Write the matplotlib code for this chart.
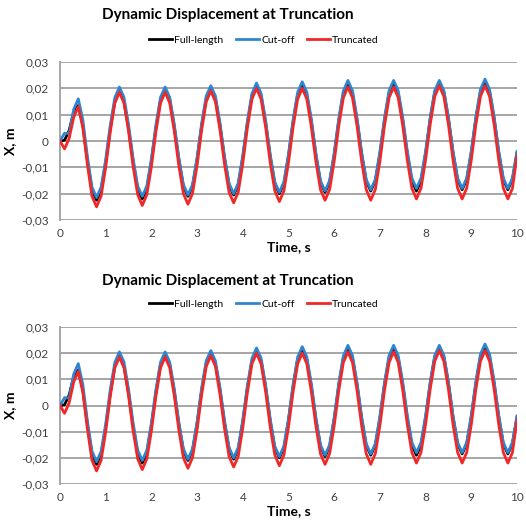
import numpy as np
import matplotlib
matplotlib.use("Agg")
import matplotlib.pyplot as plt
from matplotlib.ticker import FixedLocator, FixedFormatter

plt.rcParams['font.family'] = ['Lato', 'DejaVu Sans']

# time axis, s
time = np.linspace(0, 10, 101)

# displacement, m (every 0.1 s)
full_length = [
    0.0, 0.0003, 0.004, 0.011, 0.0135, 0.006, -0.0075, -0.0185, -0.0225,
    -0.0186, -0.0082, 0.0047, 0.0151, 0.019, 0.0151, 0.0049, -0.0079, -0.0181, -0.022,
    -0.0181, -0.0077, 0.0052, 0.0156, 0.0195, 0.0157, 0.0055, -0.007, -0.0172, -0.021,
    -0.0171, -0.0069, 0.0059, 0.0161, 0.020, 0.0162, 0.006, -0.0065, -0.0167, -0.0205,
    -0.0166, -0.0062, 0.0067, 0.0171, 0.021, 0.0171, 0.0069, -0.0059, -0.0161, -0.020,
    -0.0161, -0.0057, 0.0072, 0.0176, 0.0215, 0.0176, 0.0074, -0.0054, -0.0156, -0.0195,
    -0.0156, -0.0052, 0.0077, 0.0181, 0.022, 0.0181, 0.0079, -0.0049, -0.0151, -0.019,
    -0.0151, -0.0049, 0.0079, 0.0181, 0.022, 0.0181, 0.0079, -0.0049, -0.0151, -0.019,
    -0.0151, -0.0047, 0.0082, 0.0186, 0.0225, 0.0186, 0.0084, -0.0044, -0.0146, -0.0185,
    -0.0146, -0.0044, 0.0084, 0.0186, 0.0225, 0.0186, 0.0084, -0.0044, -0.0146, -0.0185,
    -0.0146, -0.0045,
]
cut_off = [
    0.0, 0.003, 0.0028, 0.012, 0.016, 0.008, -0.006, -0.0175, -0.0215,
    -0.0175, -0.007, 0.006, 0.0165, 0.0205, 0.0166, 0.0062, -0.0067, -0.0171, -0.021,
    -0.0171, -0.0067, 0.0062, 0.0166, 0.0205, 0.0166, 0.0064, -0.0064, -0.0166, -0.0205,
    -0.0166, -0.0062, 0.0067, 0.0171, 0.021, 0.0171, 0.0069, -0.0059, -0.0161, -0.020,
    -0.016, -0.0055, 0.0075, 0.018, 0.022, 0.0181, 0.0077, -0.0052, -0.0156, -0.0195,
    -0.0155, -0.005, 0.008, 0.0185, 0.0225, 0.0186, 0.0082, -0.0047, -0.0151, -0.019,
    -0.015, -0.0045, 0.0085, 0.019, 0.023, 0.0191, 0.0087, -0.0042, -0.0146, -0.0185,
    -0.0146, -0.0042, 0.0087, 0.0191, 0.023, 0.0191, 0.0089, -0.0039, -0.0141, -0.018,
    -0.0141, -0.0039, 0.0089, 0.0191, 0.023, 0.0191, 0.0089, -0.0039, -0.0141, -0.018,
    -0.0141, -0.0037, 0.0092, 0.0196, 0.0235, 0.0196, 0.0092, -0.0037, -0.0141, -0.018,
    -0.0141, -0.004,
]
truncated = [
    0.0, -0.003, 0.001, 0.009, 0.013, 0.005, -0.009, -0.021, -0.025,
    -0.0209, -0.010, 0.0035, 0.0144, 0.0185, 0.0144, 0.0037, -0.0097, -0.0204, -0.0245,
    -0.0204, -0.0097, 0.0037, 0.0144, 0.0185, 0.0145, 0.0038, -0.0093, -0.020, -0.024,
    -0.0199, -0.0092, 0.0042, 0.0149, 0.019, 0.015, 0.0043, -0.0088, -0.0195, -0.0235,
    -0.0194, -0.0085, 0.005, 0.0159, 0.020, 0.0159, 0.0052, -0.0082, -0.0189, -0.023,
    -0.0189, -0.0082, 0.0052, 0.0159, 0.020, 0.016, 0.0053, -0.0078, -0.0185, -0.0225,
    -0.0184, -0.0077, 0.0057, 0.0164, 0.0205, 0.0164, 0.0057, -0.0077, -0.0184, -0.0225,
    -0.0184, -0.0077, 0.0057, 0.0164, 0.0205, 0.0165, 0.0058, -0.0073, -0.018, -0.022,
    -0.0179, -0.0072, 0.0062, 0.0169, 0.021, 0.0169, 0.0062, -0.0072, -0.0179, -0.022,
    -0.0179, -0.0072, 0.0062, 0.0169, 0.021, 0.0169, 0.0062, -0.0072, -0.0179, -0.022,
    -0.018, -0.0055,
]

series_names = ["Full-length", "Cut-off", "Truncated"]
series_colors = ["#000000", "#2f86d0", "#f02828"]

y_ticks = [-0.03, -0.02, -0.01, 0, 0.01, 0.02, 0.03]
y_labels = ["-0,03", "-0,02", "-0,01", "0", "0,01", "0,02", "0,03"]
x_ticks = list(range(11))

title = "Dynamic Displacement at Truncation"

W, H = 526, 522
fig = plt.figure(figsize=(W / 100, H / 100), dpi=100)

# (axes top px, axes bottom px, title y px, legend y px)
panels = [(62, 220, 15, 40), (327, 484, 281, 304)]
left_px, right_px = 60, 517

for top, bottom, title_y, legend_y in panels:
    ax = fig.add_axes([left_px / W, 1 - bottom / H,
                       (right_px - left_px) / W, (bottom - top) / H])
    lines = []
    for data, name, color in zip([full_length, cut_off, truncated], series_names, series_colors):
        ln, = ax.plot(time, data, color=color, lw=2.0, label=name, zorder=3,
                      solid_joinstyle='round')
        lines.append(ln)

    ax.set_xlim(0, 10)
    ax.set_ylim(-0.03, 0.03)
    ax.yaxis.set_major_locator(FixedLocator(y_ticks))
    ax.yaxis.set_major_formatter(FixedFormatter(y_labels))
    ax.set_xticks(x_ticks)
    ax.grid(axis='y', color='#a6a6a6', lw=1.4, zorder=0)
    for s in ['top', 'right', 'bottom']:
        ax.spines[s].set_visible(False)
    ax.spines['left'].set_color('#a6a6a6')
    ax.spines['left'].set_linewidth(1.4)
    ax.tick_params(axis='both', length=0, labelsize=8.5, labelcolor='#404040', pad=6)
    ax.tick_params(axis='y', pad=8)
    ax.set_xlabel("Time, s", fontsize=10, fontweight='bold', labelpad=1)
    ax.set_ylabel("X, m", fontsize=10, fontweight='bold', labelpad=4)

    fig.text(228 / W, 1 - title_y / H, title, ha='center', va='center',
             fontsize=11, fontweight='bold')
    fig.legend(handles=lines, loc='center', bbox_to_anchor=(264 / W, 1 - legend_y / H),
               ncol=3, frameon=False, fontsize=7.5, handlelength=2.2, handletextpad=0.2,
               columnspacing=1.2, borderaxespad=0)

fig.savefig("out.png", dpi=100)
